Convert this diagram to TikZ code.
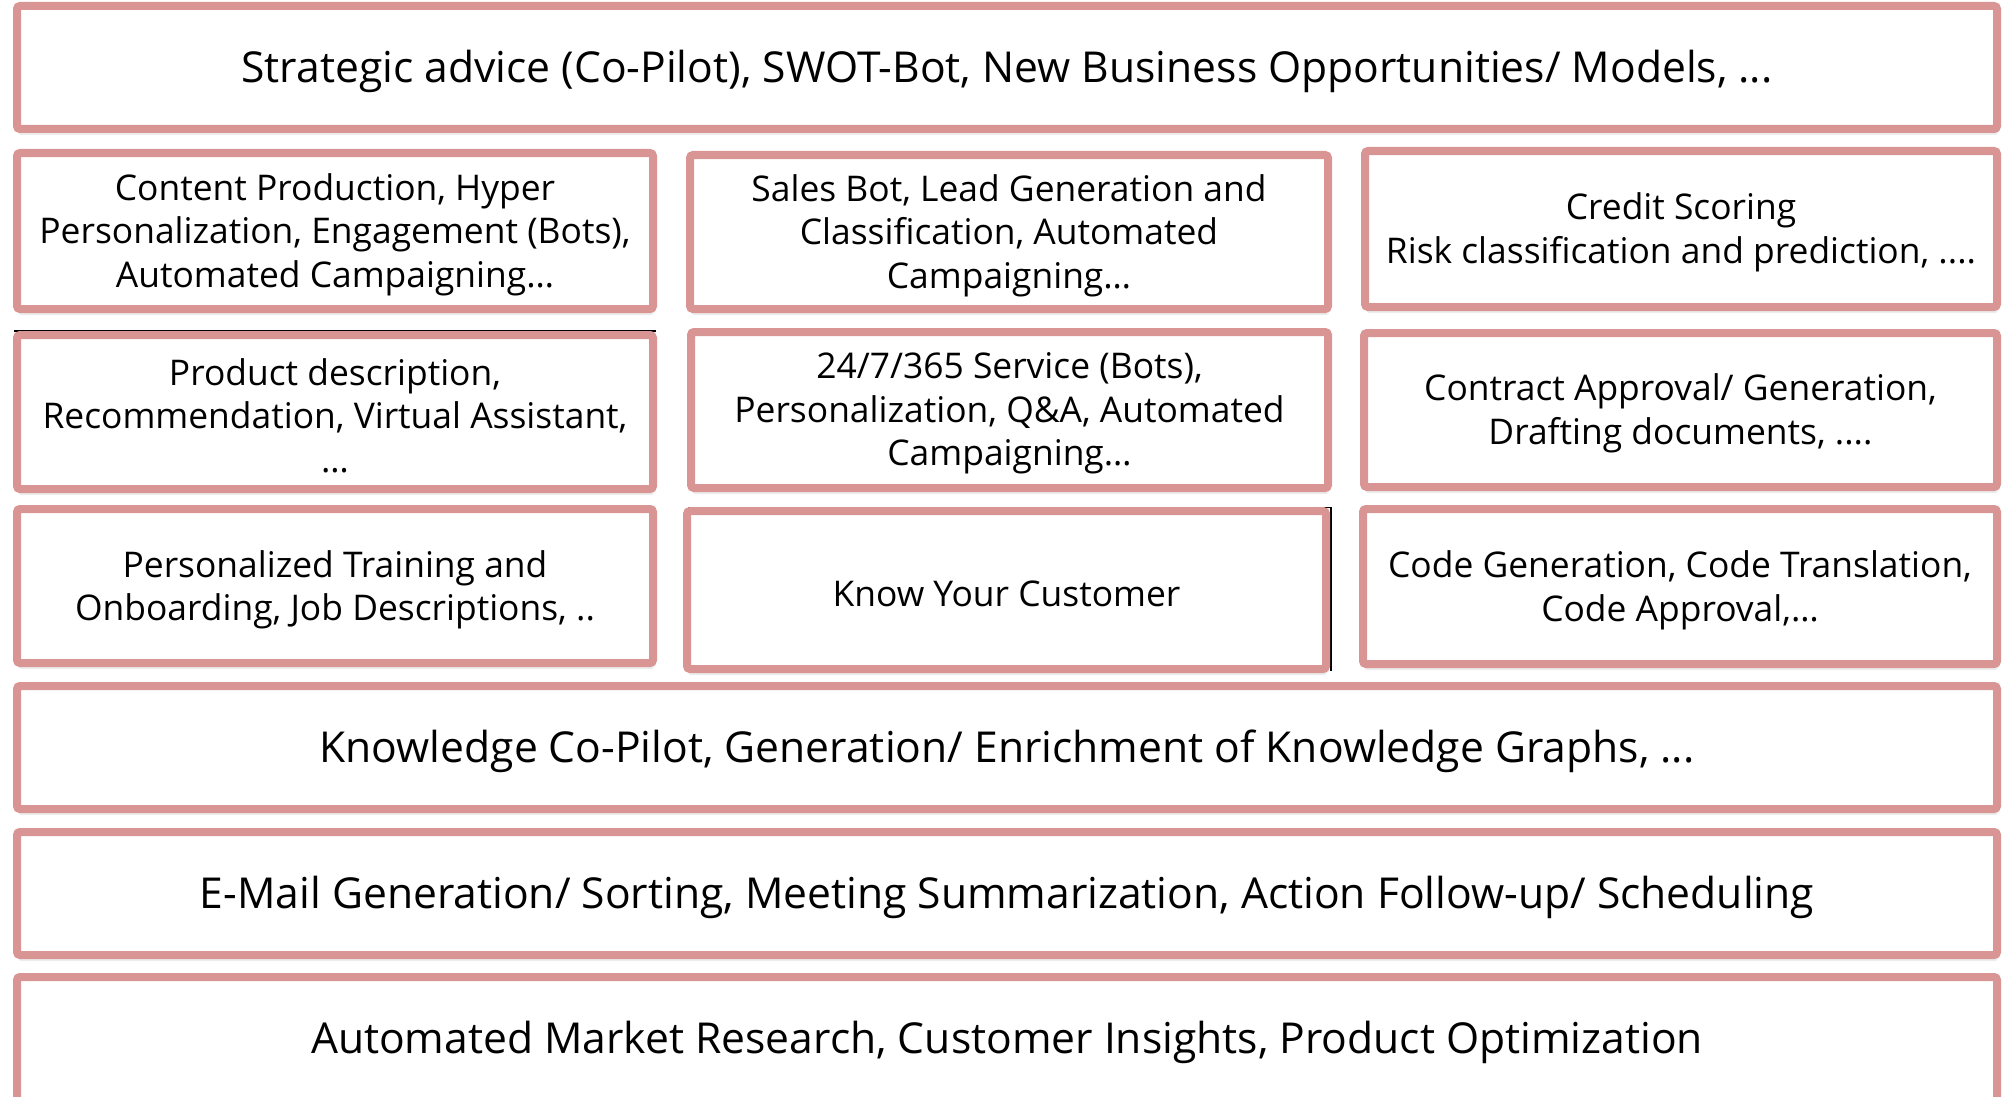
\documentclass[tikz,border=0pt]{standalone}
\usepackage{fontspec}
\setmainfont{Open Sans}
\usetikzlibrary{shadows}
\definecolor{boxred}{HTML}{D99594}
\tikzset{
  x=0.5pt, y=-0.5pt,
  cell/.style={draw=boxred, line width=4pt, fill=white, rounded corners=1.5pt,
    inner sep=0pt,
    drop shadow={opacity=0.15, shadow xshift=0.6pt, shadow yshift=-3pt}},
  widebox/.style={cell, minimum width=990pt},
  widetxt/.style={align=center, text=black, inner sep=0pt, yshift=-1.8pt,
    font=\fontsize{21.3}{26}\selectfont},
  smalltxt/.style={align=center, text=black, inner sep=0pt, yshift=-1.8pt,
    font=\fontsize{17.7}{21.8}\selectfont},
  artifact/.style={draw=black, line width=0.8pt}
}
\begin{document}
\begin{tikzpicture}
\useasboundingbox (0,0) rectangle (2002,1097);
% thin dark edge artifacts peeking behind two boxes
\draw[artifact] (14,331) -- (656,331);
\draw[artifact] (688,507.5) -- (1331,507.5) -- (1331,671);

\node[widebox, minimum height=61.5pt] (strat) at (1007,67.5) {};
\node[widetxt] (strat-t) at (strat.center)
  {Strategic advice (Co-Pilot), SWOT-Bot, New Business Opportunities/ Models, ...};

\node[cell, minimum width=318pt, minimum height=78pt] (content) at (335,231) {};
\node[smalltxt] (content-t) at (content.center)
  {Content Production, Hyper\\Personalization, Engagement (Bots),\\Automated Campaigning…};
\node[cell, minimum width=319pt, minimum height=77pt] (sales) at (1009,232) {};
\node[smalltxt] (sales-t) at (sales.center)
  {Sales Bot, Lead Generation and\\Classification, Automated\\Campaigning…};
\node[cell, minimum width=316pt, minimum height=78pt] (credit) at (1681,229) {};
\node[smalltxt] (credit-t) at (credit.center)
  {Credit Scoring\\Risk classification and prediction, ....};

\node[cell, minimum width=318pt, minimum height=77pt] (product) at (335,412) {};
\node[smalltxt] (product-t) at (product.center)
  {Product description,\\Recommendation, Virtual Assistant,\\…};
\node[cell, minimum width=318.5pt, minimum height=78pt] (service) at (1009.5,410) {};
\node[smalltxt] (service-t) at (service.center)
  {24/7/365 Service (Bots),\\Personalization, Q\&A, Automated\\Campaigning…};
\node[cell, minimum width=316.5pt, minimum height=77pt] (contract) at (1680.5,410) {};
\node[smalltxt] (contract-t) at (contract.center)
  {Contract Approval/ Generation,\\Drafting documents, ....};

\node[cell, minimum width=318pt, minimum height=77pt] (training) at (335,586) {};
\node[smalltxt] (training-t) at (training.center)
  {Personalized Training and\\Onboarding, Job Descriptions, ..};
\node[cell, minimum width=319.5pt, minimum height=79pt] (kyc) at (1006.5,590) {};
\node[smalltxt] (kyc-t) at (kyc.center)
  {Know Your Customer};
\node[cell, minimum width=317pt, minimum height=77.5pt] (code) at (1680,586.5) {};
\node[smalltxt] (code-t) at (code.center)
  {Code Generation, Code Translation,\\Code Approval,…};

\node[widebox, minimum height=61.5pt] (knowledge) at (1007,747.5) {};
\node[widetxt] (knowledge-t) at (knowledge.center)
  {Knowledge Co-Pilot, Generation/ Enrichment of Knowledge Graphs, ...};
\node[widebox, minimum height=61.5pt] (email) at (1007,893.5) {};
\node[widetxt] (email-t) at (email.center)
  {E-Mail Generation/ Sorting, Meeting Summarization, Action Follow-up/ Scheduling};
\node[widebox, minimum height=62pt] (market) at (1007,1039) {};
\node[widetxt] (market-t) at (market.center)
  {Automated Market Research, Customer Insights, Product Optimization};
\end{tikzpicture}
\end{document}
